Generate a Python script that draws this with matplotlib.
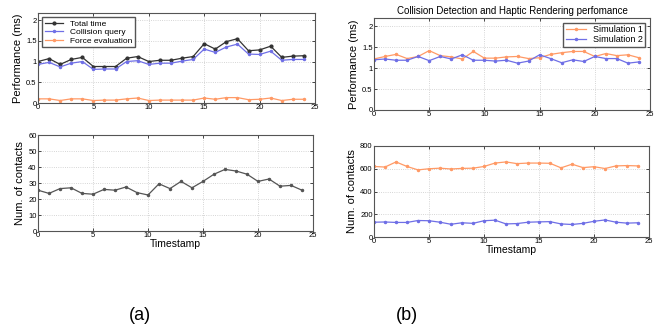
import matplotlib.pyplot as plt

# Timestamps 0..24
steps = list(range(25))

# (a) performance (ms)
total_time = [1.00, 1.07, 0.93, 1.05, 1.10, 0.88, 0.88, 0.88, 1.08, 1.12, 1.00, 1.03, 1.03,
              1.08, 1.12, 1.43, 1.30, 1.48, 1.55, 1.26, 1.28, 1.37, 1.10, 1.13, 1.14]
collision_query = [0.93, 0.98, 0.87, 0.96, 1.00, 0.81, 0.82, 0.82, 1.00, 1.02, 0.93, 0.96, 0.96,
                   1.01, 1.05, 1.30, 1.22, 1.35, 1.42, 1.18, 1.17, 1.25, 1.03, 1.05, 1.05]
force_eval = [0.10, 0.10, 0.06, 0.10, 0.10, 0.06, 0.07, 0.07, 0.10, 0.12, 0.06, 0.07, 0.07,
              0.07, 0.07, 0.12, 0.09, 0.13, 0.13, 0.08, 0.09, 0.12, 0.06, 0.09, 0.09]

# (a) number of contacts
contacts_a = [25.5, 23.5, 26.5, 27, 23.5, 23, 26, 25.5, 27.5, 24, 22.5, 29.5, 26.5,
              31, 27, 31, 35.5, 38.5, 37.5, 35.5, 31, 32.5, 28, 28.5, 25.5]

# (b) performance (ms)
sim1_perf = [1.22, 1.28, 1.33, 1.23, 1.28, 1.42, 1.30, 1.27, 1.22, 1.40, 1.24, 1.24, 1.27,
             1.28, 1.23, 1.25, 1.33, 1.37, 1.40, 1.40, 1.28, 1.35, 1.30, 1.32, 1.25]
sim2_perf = [1.20, 1.22, 1.19, 1.19, 1.28, 1.18, 1.28, 1.22, 1.32, 1.19, 1.19, 1.17, 1.19,
             1.12, 1.17, 1.32, 1.23, 1.13, 1.20, 1.16, 1.28, 1.23, 1.23, 1.12, 1.15]

# (b) number of contacts
sim1_contacts = [620, 615, 660, 620, 590, 600, 605, 598, 603, 605, 620, 650, 660,
                 645, 650, 650, 648, 608, 640, 610, 618, 602, 625, 628, 625]
sim2_contacts = [130, 132, 128, 128, 145, 143, 130, 112, 125, 120, 143, 148, 115,
                 118, 130, 133, 135, 115, 110, 120, 138, 150, 130, 122, 125]

BLACK = '#333333'
BLUE = '#6f6fe6'
ORANGE = '#ff9a66'

plt.rcParams['font.family'] = ['Liberation Sans', 'DejaVu Sans']

fig = plt.figure(figsize=(6.57, 3.30), dpi=100)
W, H = 657, 330


def add_axes(x0, y0, x1, y1):
    # pixel box (top-left origin) -> figure fraction
    return fig.add_axes([x0 / W, 1 - y1 / H, (x1 - x0) / W, (y1 - y0) / H])


def style(ax, ylim, yticks, ylabel, xlabel=None):
    ax.set_xlim(0, 25)
    ax.set_xticks([0, 5, 10, 15, 20, 25])
    ax.set_ylim(*ylim)
    ax.set_yticks(yticks)
    ax.set_yticklabels([('%g' % t) for t in yticks])
    ax.grid(True, linestyle=':', color='#c8c8c8', linewidth=0.6)
    ax.tick_params(labelsize=5.5, length=2, width=0.5, pad=1, direction='in',
                   top=True, right=True)
    for s in ax.spines.values():
        s.set_color('#555555')
        s.set_linewidth(0.8)
    ax.set_ylabel(ylabel, fontsize=8, labelpad=2)
    if xlabel:
        ax.set_xlabel(xlabel, fontsize=7.5, labelpad=0)


# (a) top
ax1 = add_axes(38, 13, 315, 103)
ax1.plot(steps, total_time, color=BLACK, marker='.', markersize=4, linewidth=0.9, label='Total time')
ax1.plot(steps, collision_query, color=BLUE, marker='.', markersize=3, linewidth=0.9, label='Collision query')
ax1.plot(steps, force_eval, color=ORANGE, marker='.', markersize=3, linewidth=0.9, label='Force evaluation')
style(ax1, (0, 2.17), [0, 0.5, 1, 1.5, 2], 'Performance (ms)')
ax1.legend(loc='upper left', fontsize=6, handlelength=2.2, borderpad=0.3,
           labelspacing=0.1, fancybox=False, edgecolor='#555555', framealpha=1)

# (a) bottom
ax2 = add_axes(38, 135, 313, 231)
ax2.plot(steps, contacts_a, color='#555555', marker='.', markersize=3, linewidth=0.9)
style(ax2, (0, 60), [0, 10, 20, 30, 40, 50, 60], 'Num. of contacts', 'Timestamp')

# (b) top
ax3 = add_axes(374, 18, 650, 110)
ax3.plot(steps, sim1_perf, color=ORANGE, marker='.', markersize=3, linewidth=0.9, label='Simulation 1')
ax3.plot(steps, sim2_perf, color=BLUE, marker='.', markersize=3, linewidth=0.9, label='Simulation 2')
style(ax3, (0, 2.2), [0, 0.5, 1, 1.5, 2], 'Performance (ms)')
ax3.set_title('Collision Detection and Haptic Rendering perfomance', fontsize=7, pad=3)
ax3.legend(loc='upper right', fontsize=6.5, handlelength=2.2, borderpad=0.3,
           labelspacing=0.1, fancybox=False, edgecolor='#555555', framealpha=1)

# (b) bottom
ax4 = add_axes(374, 146, 649, 237)
ax4.plot(steps, sim1_contacts, color=ORANGE, marker='.', markersize=3, linewidth=0.9)
ax4.plot(steps, sim2_contacts, color=BLUE, marker='.', markersize=3, linewidth=0.9)
style(ax4, (0, 800), [0, 200, 400, 600, 800], 'Num. of contacts', 'Timestamp')

fig.text(140 / W, 1 - 315 / H, '(a)', fontsize=13, ha='center', va='center')
fig.text(407 / W, 1 - 315 / H, '(b)', fontsize=13, ha='center', va='center')

fig.savefig('out.png', dpi=100)
